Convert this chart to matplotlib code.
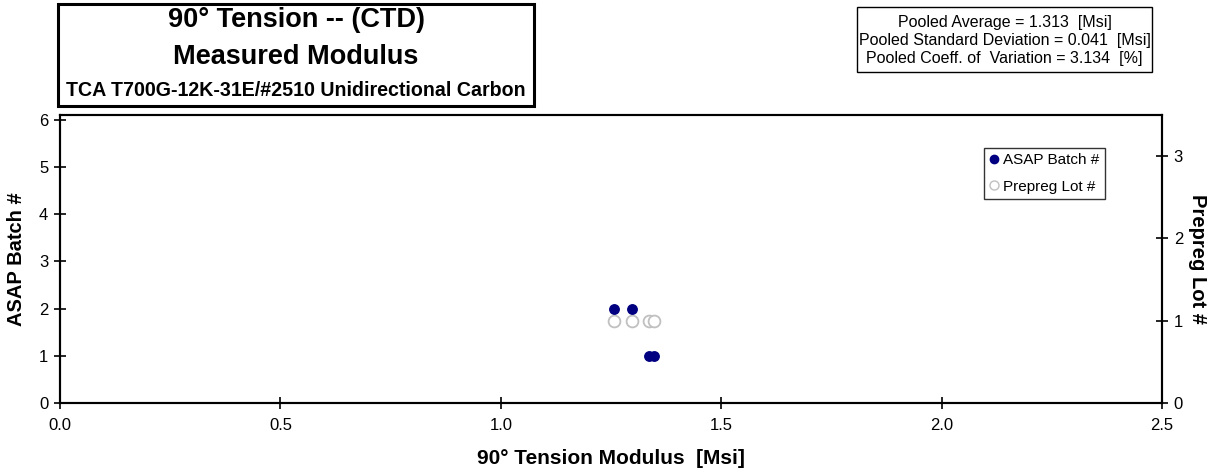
import matplotlib
matplotlib.use("Agg")
import matplotlib.pyplot as plt
from matplotlib.patches import Rectangle
from matplotlib.lines import Line2D

plt.rcParams['font.family'] = ['Liberation Sans', 'DejaVu Sans']

# Data
modulus = [1.257, 1.298, 1.336, 1.348]
asap_batch = [2, 2, 1, 1]
prepreg_lot = [1, 1, 1, 1]

x_ticks = [0.0, 0.5, 1.0, 1.5, 2.0, 2.5]
left_ticks = [0, 1, 2, 3, 4, 5, 6]
right_ticks = [0, 1, 2, 3]

title_lines = ["90° Tension -- (CTD)", "Measured Modulus",
               "TCA T700G-12K-31E/#2510 Unidirectional Carbon"]
stats_lines = ["Pooled Average = 1.313  [Msi]",
               "Pooled Standard Deviation = 0.041  [Msi]",
               "Pooled Coeff. of  Variation = 3.134  [%]"]

W, H = 1212, 475
fig = plt.figure(figsize=(W / 100, H / 100), dpi=100)

def fx(px):
    return px / W

def fy(py):
    return 1 - py / H

ax = fig.add_axes([fx(60), fy(403), fx(1162) - fx(60), fy(115) - fy(403)])
ax2 = ax.twinx()

navy = '#000080'
grey = '#c0c0c0'

ax2.plot(modulus, prepreg_lot, linestyle='none', marker='o', markersize=8.5,
         markerfacecolor='white', markeredgecolor=grey, markeredgewidth=1.3, zorder=2)
ax.plot(modulus, asap_batch, linestyle='none', marker='o', markersize=6.8,
        markerfacecolor=navy, markeredgecolor=navy, zorder=3)
ax.set_zorder(ax2.get_zorder() + 1)
ax.patch.set_visible(False)

ax.set_xlim(0, 2.5)
ax.set_ylim(0, 6.1)
ax2.set_ylim(0, 3.5)
ax.set_xticks(x_ticks)
ax.set_xticklabels([f"{v:.1f}" for v in x_ticks])
ax.set_yticks(left_ticks)
ax2.set_yticks(right_ticks)

for a in (ax, ax2):
    for s in a.spines.values():
        s.set_linewidth(1.5)
        s.set_color('black')
ax.tick_params(axis='both', direction='inout', length=9, width=1.2, labelsize=12, pad=4)
ax.tick_params(axis='x', pad=6)
ax2.tick_params(axis='y', direction='inout', length=9, width=1.2, labelsize=12, pad=4)

ax.set_xlabel("90° Tension Modulus  [Msi]", fontsize=15, fontweight='bold', va='center')
ax.xaxis.set_label_coords(0.5, (403 - 458) / 288)
ax.set_ylabel("ASAP Batch #", fontsize=14.5, fontweight='bold', va='center')
ax.yaxis.set_label_coords((17 - 60) / 1102, 0.5)
ax2.set_ylabel("Prepreg Lot #", fontsize=14.5, fontweight='bold', rotation=270, va='center')
ax2.yaxis.set_label_coords((1197 - 60) / 1102, 0.5)

# Legend
handles = [
    Line2D([], [], linestyle='none', marker='o', markersize=6, markerfacecolor=navy,
           markeredgecolor=navy, label="ASAP Batch #"),
    Line2D([], [], linestyle='none', marker='o', markersize=6.5, markerfacecolor='white',
           markeredgecolor=grey, markeredgewidth=1.0, label="Prepreg Lot #"),
]
leg = fig.legend(handles=handles, loc='upper left',
                 bbox_to_anchor=(fx(984), fy(148)), fontsize=11, frameon=True,
                 fancybox=False, edgecolor='black', handlelength=0.6, handletextpad=0.3,
                 borderpad=0.35, labelspacing=0.8, borderaxespad=0)
leg.get_frame().set_linewidth(1.0)

# Title box
fig.patches.append(Rectangle((fx(58), fy(106)), fx(534) - fx(58), fy(4) - fy(106),
                             transform=fig.transFigure, fill=False, edgecolor='black',
                             linewidth=2.2))
cx = fx(296)
fig.text(cx, fy(20), title_lines[0], ha='center', va='center', fontsize=19.5, fontweight='bold')
fig.text(cx, fy(57), title_lines[1], ha='center', va='center', fontsize=19.5, fontweight='bold')
fig.text(cx, fy(90), title_lines[2], ha='center', va='center', fontsize=14.1, fontweight='bold')

# Stats box
fig.patches.append(Rectangle((fx(857), fy(72)), fx(1152) - fx(857), fy(7) - fy(72),
                             transform=fig.transFigure, fill=False, edgecolor='black',
                             linewidth=1.0))
sx = fx(1004.5)
for i, line in enumerate(stats_lines):
    fig.text(sx, fy(22 + 18.5 * i), line, ha='center', va='center', fontsize=11.5)

fig.savefig("out.png", dpi=100)
